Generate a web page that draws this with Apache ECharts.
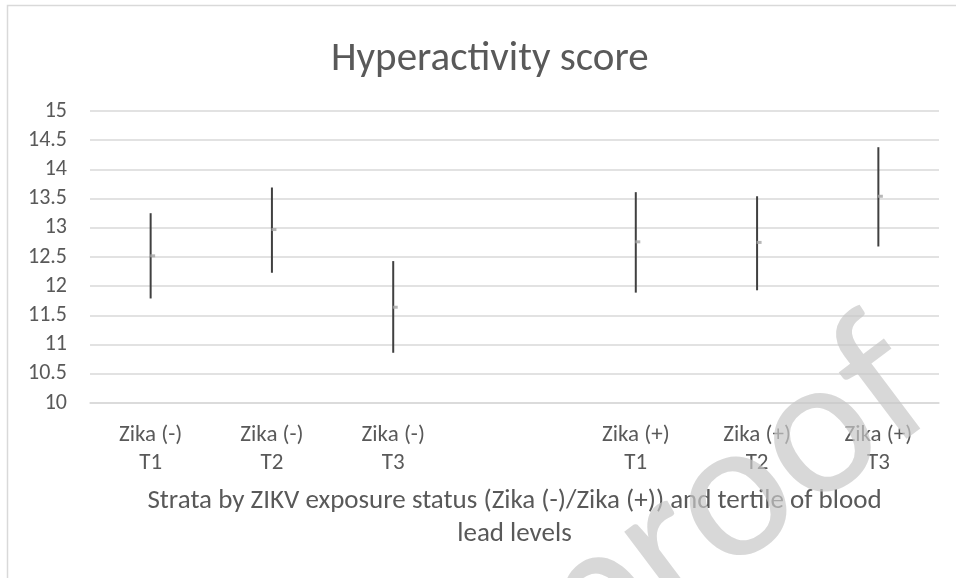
<!DOCTYPE html>
<html>
<head>
<meta charset="utf-8">
<script src="https://cdn.jsdelivr.net/npm/echarts@6/dist/echarts.min.js"></script>
<style>
  html, body { margin: 0; padding: 0; background: #fff; }
  #chart { width: 956px; height: 578px; }
</style>
</head>
<body>
<div id="chart"></div>
<script>
// categories (blank slot separates the two exposure groups)
const categories = ["Zika (-)\nT1", "Zika (-)\nT2", "Zika (-)\nT3", "", "Zika (+)\nT1", "Zika (+)\nT2", "Zika (+)\nT3"];
// point estimate and interval ends
const means = [12.52, 12.97, 11.64, null, 12.76, 12.75, 13.54];
const lower = [11.79, 12.23, 10.86, null, 11.89, 11.93, 12.68];
const upper = [13.25, 13.69, 12.43, null, 13.61, 13.54, 14.38];

const FONT = "Carlito, 'Liberation Sans Narrow', 'Open Sans', sans-serif";
const GREY = "#595959";

let barData = [];
categories.forEach((c, i) => {
  if (lower[i] != null) barData.push([i, lower[i], upper[i]]);
});

let chart = echarts.init(document.getElementById("chart"));
chart.setOption({
  animation: false,
  backgroundColor: "#fff",
  title: {
    text: "Hyperactivity score",
    left: 326,
    top: 34,
    textStyle: {fontFamily: FONT, fontSize: 41, fontWeight: "normal", color: GREY}
  },
  grid: {left: 90, right: 17, top: 111, bottom: 175},
  xAxis: {
    type: "category",
    data: categories,
    axisLine: {lineStyle: {color: "#d9d9d9", width: 1.5}},
    axisTick: {show: false},
    axisLabel: {fontFamily: FONT, fontSize: 23, color: GREY, lineHeight: 28, margin: 18, interval: 0},
    name: "Strata by ZIKV exposure status (Zika (-)/Zika (+)) and tertile of blood\nlead levels",
    nameLocation: "middle",
    nameGap: 82,
    nameTextStyle: {fontFamily: FONT, fontSize: 27, color: GREY, lineHeight: 33, verticalAlign: "top"}
  },
  yAxis: {
    type: "value",
    min: 10,
    max: 15,
    interval: 0.5,
    axisLine: {show: false},
    axisTick: {show: false},
    axisLabel: {fontFamily: FONT, fontSize: 22, color: GREY, margin: 23},
    splitLine: {lineStyle: {color: "#d9d9d9", width: 1.5}}
  },
  graphic: [
    {
      type: "rect",
      shape: {x: 7.5, y: 5.5, width: 1000, height: 700},
      style: {fill: null, stroke: "#d9d9d9", lineWidth: 1.5},
      z: -10
    },
    {
      // watermark
      type: "text",
      x: 972,
      y: 452,
      rotation: 37 * Math.PI / 180,
      style: {
        text: "Journal Pre-proof",
        font: "200px " + FONT,
        fill: "rgba(200,200,200,0.7)",
        align: "right",
        verticalAlign: "bottom"
      },
      z: 100
    }
  ],
  series: [
    {
      type: "custom",
      data: barData,
      renderItem: function (params, api) {
        let lo = api.coord([api.value(0), api.value(1)]);
        let hi = api.coord([api.value(0), api.value(2)]);
        return {
          type: "line",
          shape: {x1: lo[0], y1: lo[1], x2: hi[0], y2: hi[1]},
          style: {stroke: "#404040", lineWidth: 2}
        };
      },
      z: 2
    },
    {
      type: "scatter",
      data: means,
      symbol: "rect",
      symbolSize: [5, 3],
      symbolOffset: [2, 0],
      itemStyle: {color: "#a5a5a5"},
      z: 3
    }
  ]
});
</script>
</body>
</html>
